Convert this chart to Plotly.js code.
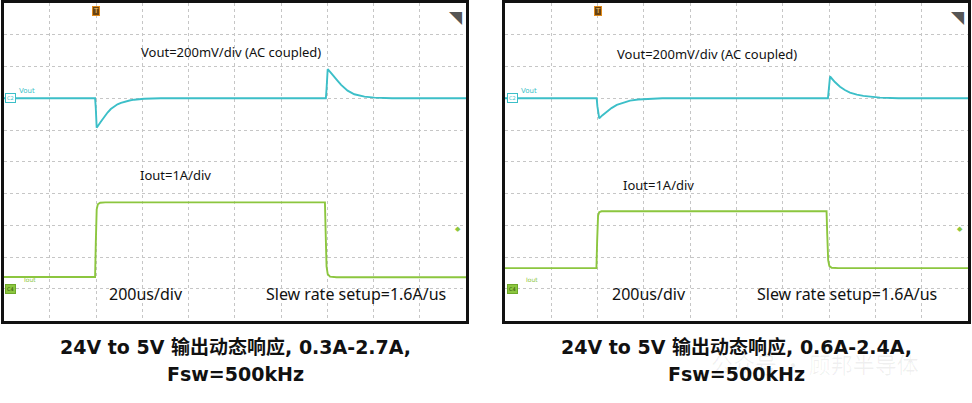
<!DOCTYPE html>
<html>
<head>
<meta charset="utf-8">
<script src="https://cdn.plot.ly/plotly-3.0.1.min.js"></script>
<style>html,body{margin:0;padding:0;background:#fff;}#chart{width:972px;height:403px;}</style>
</head>
<body>
<div id="chart"></div>
<script>
// ---- Data (time in us, Vout deviation in mV, Iout in A) ----
const tVoutL = [0, 396, 399, 403, 420, 435, 450, 464, 480, 493, 508, 522, 545, 565, 608, 680, 1394, 1397, 1402, 1416, 1431, 1445, 1460, 1475, 1488, 1517, 1561, 1604, 1680, 2000];
const voutL  = [0, 0, -60, -186, -150, -116, -90, -68, -50, -38, -29, -22, -14, -9, -3, 0, 0, 60, 184, 160, 137, 110, 84, 64, 48, 25, 10, 4, 0, 0];
const tIoutL = [0, 396, 399, 403, 408, 418, 440, 1390, 1393, 1397, 1402, 1412, 1440, 2000];
const ioutL  = [0.37, 0.37, 1.4, 2.5, 2.66, 2.71, 2.72, 2.72, 1.8, 0.7, 0.46, 0.38, 0.36, 0.36];

const tVoutR = [0, 396, 399, 407, 420, 439, 460, 483, 510, 540, 575, 612, 680, 1395, 1398, 1404, 1425, 1447, 1468, 1490, 1520, 1548, 1620, 1700, 2000];
const voutR  = [0, 0, -50, -127, -108, -85, -62, -42, -27, -15, -8, -4, 0, 0, 50, 137, 102, 73, 52, 35, 23, 15, 4, 0, 0];
const tIoutR = [0, 395, 398, 402, 407, 417, 440, 1389, 1392, 1396, 1401, 1411, 1440, 2000];
const ioutR  = [0.65, 0.65, 1.5, 2.3, 2.41, 2.44, 2.44, 2.44, 1.7, 0.9, 0.72, 0.66, 0.65, 0.65];

const triggerTime = 400;   // us
const trigLevel = 1.87;    // A

const captionL1 = "24V to 5V 输出动态响应, 0.3A-2.7A,";
const captionL2 = "Fsw=500kHz";
const captionR1 = "24V to 5V 输出动态响应, 0.6A-2.4A,";
const captionR2 = "Fsw=500kHz";

const cyan = "#3cbfc8";
const green = "#8cc63f";

const traces = [
  {x: tVoutL, y: voutL, xaxis: "x", yaxis: "y", mode: "lines", line: {color: cyan, width: 1.9}, hoverinfo: "skip"},
  {x: tIoutL, y: ioutL, xaxis: "x", yaxis: "y2", mode: "lines", line: {color: green, width: 1.9}, hoverinfo: "skip"},
  {x: tVoutR, y: voutR, xaxis: "x2", yaxis: "y3", mode: "lines", line: {color: cyan, width: 1.9}, hoverinfo: "skip"},
  {x: tIoutR, y: ioutR, xaxis: "x2", yaxis: "y4", mode: "lines", line: {color: green, width: 1.9}, hoverinfo: "skip"}
];

const W = 972, H = 403;
const yDom = [(H - 320.5) / H, (H - 3) / H];
const xDomL = [3.5 / W, 466 / W];
const xDomR = [505 / W, 968 / W];

function xAx(dom, anchor) {
  return {domain: dom, anchor: anchor, range: [0, 2000], dtick: 200, tick0: 0,
    showticklabels: false, ticks: "", showgrid: true, gridcolor: "#c6c6c6", griddash: "dot", gridwidth: 1,
    zeroline: false, showline: true, linecolor: "#111", linewidth: 3, mirror: true, fixedrange: true};
}
function yVAx(anchor) {
  return {domain: yDom, anchor: anchor, range: [-1400, 600], dtick: 200, tick0: 0,
    showticklabels: false, ticks: "", showgrid: true, gridcolor: "#c6c6c6", griddash: "dot", gridwidth: 1,
    zeroline: false, showline: true, linecolor: "#111", linewidth: 3, mirror: true, fixedrange: true};
}
function yIAx(over, anchor) {
  return {domain: yDom, overlaying: over, anchor: anchor, range: [-1, 9],
    showticklabels: false, ticks: "", showgrid: false, zeroline: false, showline: false, fixedrange: true};
}

const txtFont = {family: "Noto Sans, Open Sans, sans-serif", color: "#111"};
const annotations = [];
function lbl(xr, yr, x, y, text, size) {
  annotations.push({xref: xr + " domain", yref: yr + " domain", x: x, y: y, xanchor: "center", yanchor: "middle",
    text: text, showarrow: false, font: Object.assign({size: size}, txtFont)});
}
function panelAnn(xr, yr, yr2, p) {
  lbl(xr, yr, p.vX, p.vY, "Vout=200mV/div (AC coupled)", 13);
  lbl(xr, yr, p.iX, p.iY, "Iout=1A/div", 13);
  lbl(xr, yr, p.dX, p.dY, "200us/div", 16);
  lbl(xr, yr, p.sX, p.dY, "Slew rate setup=1.6A/us", 16);
  // trigger marker
  annotations.push({xref: xr, yref: yr + " domain", x: triggerTime, y: 0.99, xanchor: "center", yanchor: "top", text: "T", showarrow: false,
    bgcolor: "#6b4310", bordercolor: "#e08a1a", borderwidth: 1, borderpad: 0, font: {size: 7, color: "#f3c87a", family: "DejaVu Sans"}});
  // top-right triangle
  annotations.push({xref: xr + " domain", yref: yr + " domain", x: 0.997, y: 0.995, xanchor: "right", yanchor: "top", text: "◥", showarrow: false, font: {size: 17, color: "#555", family: "DejaVu Sans"}});
  // channel markers
  annotations.push({xref: xr + " domain", yref: yr, x: 0.004, y: 0, xanchor: "left", yanchor: "middle", text: "C2", showarrow: false,
    bgcolor: "#ffffff", bordercolor: cyan, borderwidth: 1, borderpad: 1, font: {size: 5, color: cyan, family: "DejaVu Sans"}});
  annotations.push({xref: xr + " domain", yref: yr, x: 0.03, y: 8, xanchor: "left", yanchor: "bottom", text: "Vout", showarrow: false, font: {size: 7, color: cyan, family: "DejaVu Sans"}});
  annotations.push({xref: xr + " domain", yref: yr2, x: 0.004, y: 0, xanchor: "left", yanchor: "middle", text: "C4", showarrow: false,
    bgcolor: green, bordercolor: "#6ea82a", borderwidth: 1, borderpad: 1, font: {size: 5, color: "#2d4a0a", family: "DejaVu Sans"}});
  annotations.push({xref: xr + " domain", yref: yr2, x: 0.04, y: 0.12, xanchor: "left", yanchor: "bottom", text: "Iout", showarrow: false, font: {size: 6, color: green, family: "DejaVu Sans"}});
  // trigger level arrow on right edge
  annotations.push({xref: xr + " domain", yref: yr2, x: 0.993, y: trigLevel, xanchor: "right", yanchor: "middle", text: "◆", showarrow: false, font: {size: 7, color: green, family: "DejaVu Sans"}});
}
panelAnn("x", "y", "y2", {vX: 0.491, vY: 0.846, iX: 0.371, iY: 0.458, dX: 0.308, dY: 0.082, sX: 0.762});
panelAnn("x2", "y3", "y4", {vX: 0.437, vY: 0.839, iX: 0.332, iY: 0.427, dX: 0.311, dY: 0.082, sX: 0.739});

const capFont = {family: "DejaVu Sans, Noto Sans CJK SC, sans-serif", size: 19, color: "#111"};
function cap(x, y, text) {
  annotations.push({xref: "paper", yref: "paper", x: x / W, y: (H - y) / H, xanchor: "center", yanchor: "middle",
    text: "<b>" + text + "</b>", showarrow: false, font: capFont});
}
cap(235, 347, captionL1);
cap(235, 374, captionL2);
cap(736, 347, captionR1);
cap(736, 374, captionR2);
// faint watermark
annotations.push({xref: "paper", yref: "paper", x: 815 / W, y: (H - 363) / H, xanchor: "center", yanchor: "middle", text: "公众号 · 顾邦半导体", showarrow: false,
  font: {family: "Noto Sans CJK SC, sans-serif", size: 22, color: "rgba(0,0,0,0.06)"}});

const layout = {
  width: W, height: H,
  margin: {l: 0, r: 0, t: 0, b: 0, pad: 0},
  paper_bgcolor: "#ffffff", plot_bgcolor: "#ffffff",
  showlegend: false,
  xaxis: xAx(xDomL, "y"),
  yaxis: yVAx("x"),
  yaxis2: yIAx("y", "x"),
  xaxis2: xAx(xDomR, "y3"),
  yaxis3: yVAx("x2"),
  yaxis4: yIAx("y3", "x2"),
  annotations: annotations
};

Plotly.newPlot("chart", traces, layout, {displayModeBar: false, staticPlot: true});
</script>
</body>
</html>
